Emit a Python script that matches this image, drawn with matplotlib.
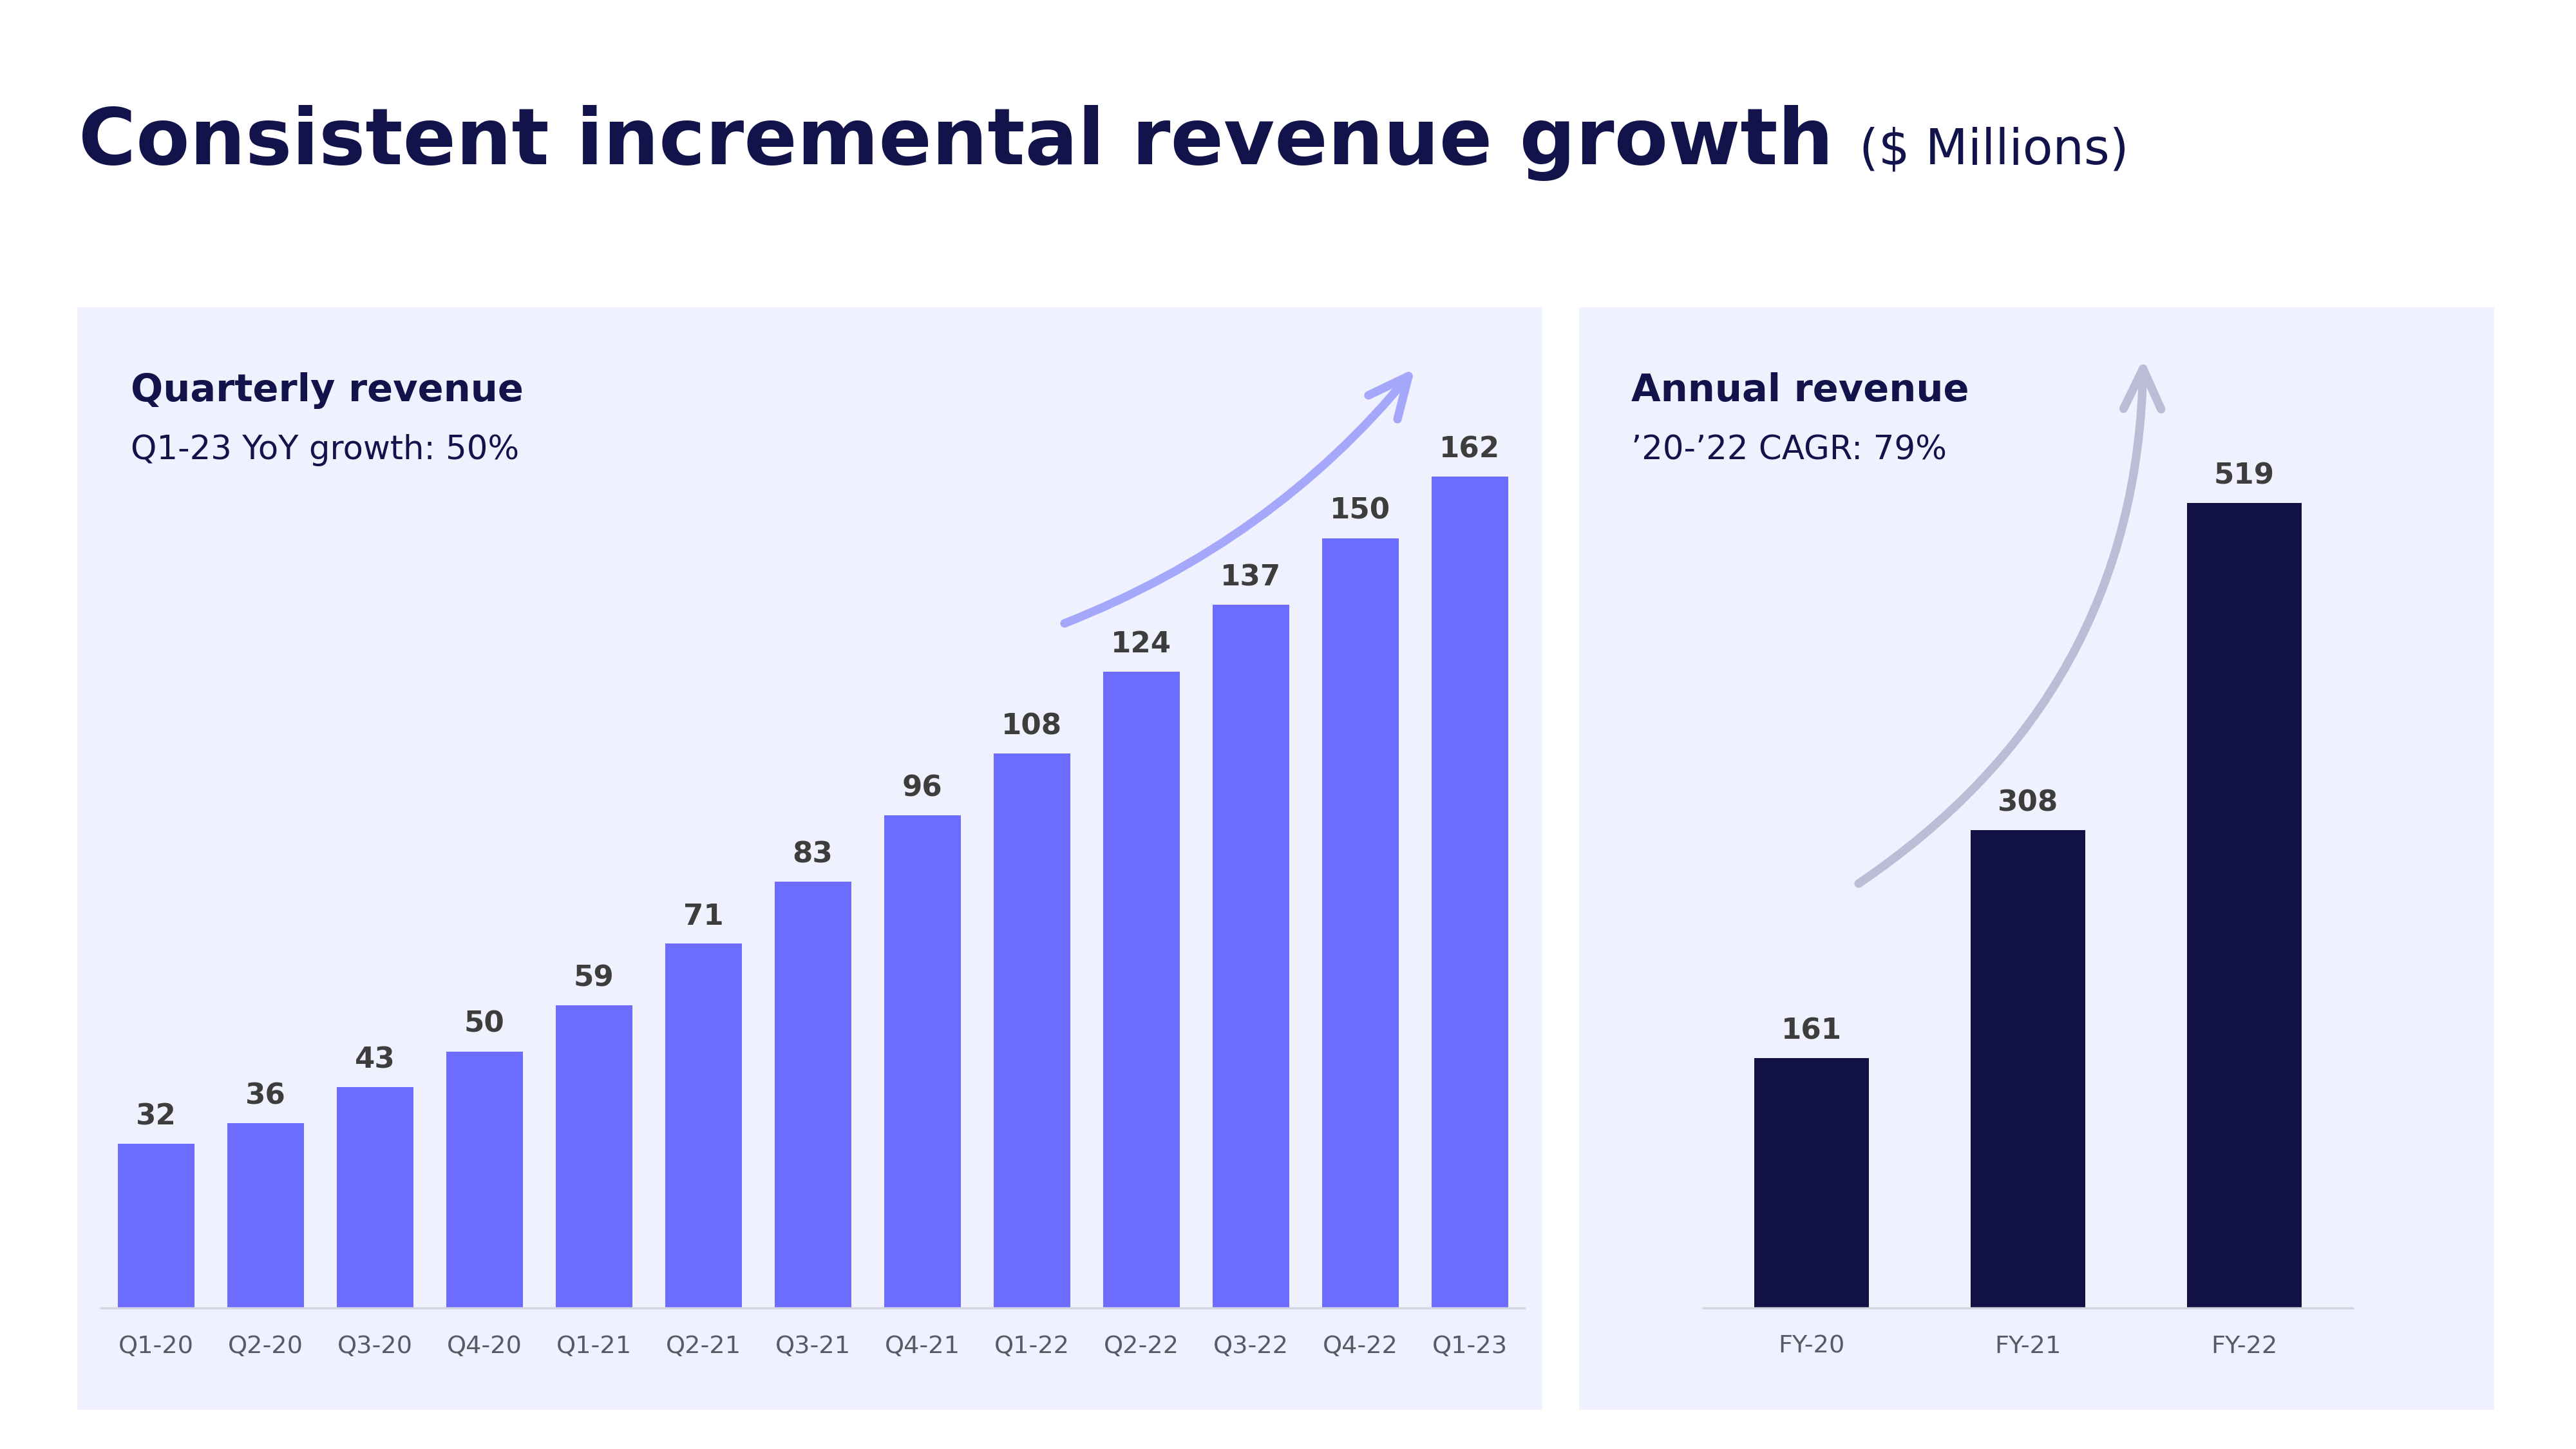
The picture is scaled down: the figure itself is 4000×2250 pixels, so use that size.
"""Quarterly and annual revenue bars, slide style."""

import matplotlib
matplotlib.use("Agg")
import matplotlib.pyplot as plt
import matplotlib.patches as patches

# ── Data ────────────────────────────────────────────────────────────────
quarters = ["Q1-20", "Q2-20", "Q3-20", "Q4-20", "Q1-21", "Q2-21", "Q3-21",
            "Q4-21", "Q1-22", "Q2-22", "Q3-22", "Q4-22", "Q1-23"]
quarterly_rev = [32, 36, 43, 50, 59, 71, 83, 96, 108, 124, 137, 150, 162]

years = ["FY-20", "FY-21", "FY-22"]
annual_rev = [161, 308, 519]

# ── Style ───────────────────────────────────────────────────────────────
NAVY = "#12134a"
PANEL = "#eff1fe"
BAR_Q = "#6c6cff"
BAR_A = "#111145"
LABEL = "#3d3d3d"
TICK = "#5a5a66"
ARROW_Q = "#a5a7fb"
ARROW_A = "#bbbdd6"
BASE = "#d3d6de"

plt.rcParams["font.family"] = ["DejaVu Sans"]

W, H = 4000, 2250
fig = plt.figure(figsize=(16, 9), dpi=250)


def fx(px):
    return px / W


def fy(py):
    return 1 - py / H


# background panels
for x0, x1 in [(120, 2395), (2452, 3873)]:
    fig.add_artist(patches.Rectangle((fx(x0), fy(2189)), fx(x1 - x0), (2189 - 477) / H,
                                     transform=fig.transFigure, facecolor=PANEL,
                                     edgecolor="none", zorder=0))

# ── Title ───────────────────────────────────────────────────────────────
title = fig.text(fx(122), fy(255), "Consistent incremental revenue growth",
                 fontsize=35, fontweight="bold", color=NAVY, va="baseline", ha="left")
fig.canvas.draw()
bb = title.get_window_extent()
fig.text((bb.x1 + 40) / W, fy(255), "($ Millions)", fontsize=22, color=NAVY,
         va="baseline", ha="left")

# panel headings
for x, head, sub in [(203, "Quarterly revenue", "Q1-23 YoY growth: 50%"),
                     (2533, "Annual revenue", "\u201920-\u201922 CAGR: 79%")]:
    fig.text(fx(x), fy(623), head, fontsize=17, fontweight="bold", color=NAVY,
             va="baseline", ha="left")
    fig.text(fx(x), fy(713), sub, fontsize=14.8, color=NAVY, va="baseline", ha="left")


def bar_panel(rect, cats, vals, color, width, ymax):
    ax = fig.add_axes(rect)
    ax.set_facecolor("none")
    xs = range(len(cats))
    ax.bar(xs, vals, width=width, color=color, zorder=2)
    for x, v in zip(xs, vals):
        ax.annotate(f"{v}", (x, v), xytext=(0, 8.5), textcoords="offset points",
                    ha="center", va="baseline", fontsize=13, fontweight="bold",
                    color=LABEL)
    ax.set_xlim(-0.5, len(cats) - 0.5)
    ax.set_ylim(0, ymax)
    ax.set_xticks(list(xs))
    ax.set_xticklabels(cats, fontsize=11, color=TICK)
    ax.tick_params(axis="x", length=0, pad=12)
    ax.set_yticks([])
    for s in ["top", "right", "left"]:
        ax.spines[s].set_visible(False)
    ax.spines["bottom"].set_color(BASE)
    ax.spines["bottom"].set_linewidth(1.0)
    return ax


ax_q = bar_panel([fx(157), fy(2031), fx(2367 - 157), (2031 - 437) / H],
                 quarters, quarterly_rev, BAR_Q, 0.7, 200)
ax_a = bar_panel([fx(2645), fy(2031), fx(3653 - 2645), (2031 - 437) / H],
                 years, annual_rev, BAR_A, 0.53, 662)

# growth arrows
arrow_kw = dict(arrowstyle="->,head_length=0.9,head_width=0.42", lw=3.8,
                shrinkA=0, shrinkB=0, capstyle="round", joinstyle="round",
                mutation_scale=20)
ax_q.annotate("", xy=(fx(2197), fy(572)), xytext=(fx(1653), fy(968)),
              xycoords=fig.transFigure, textcoords=fig.transFigure,
              arrowprops=dict(color=ARROW_Q, connectionstyle="arc3,rad=0.13", **arrow_kw))
ax_a.annotate("", xy=(fx(3328), fy(557)), xytext=(fx(2886), fy(1372)),
              xycoords=fig.transFigure, textcoords=fig.transFigure,
              arrowprops=dict(color=ARROW_A, connectionstyle="arc3,rad=0.26", **arrow_kw))

fig.savefig("out.png", dpi=250, facecolor="white")
